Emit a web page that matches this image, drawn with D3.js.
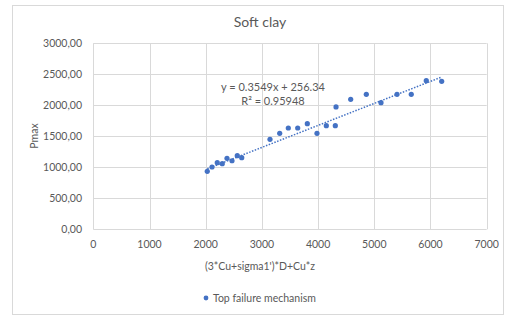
<!DOCTYPE html>
<html lang="en">
<head>
    <meta charset="UTF-8">
    <title>Soft clay | D3</title>
    <style>
        body { margin: 0; background: #fff; }
        text { font-family: Lato, "Open Sans", sans-serif; fill: #595959; }
    </style>
</head>
<body>
    <div id="container"></div>

    <script type="text/javascript" src="https://d3js.org/d3.v7.min.js"></script>
    <script type="text/javascript">
        // values
        var xValues = [2028, 2112, 2206, 2295, 2379, 2468, 2562, 2641, 3144, 3317, 3470, 3637,
                       3808, 3980, 4146, 4306, 4319, 4580, 4858, 5119, 5404, 5658, 5925, 6199];
        var yValues = [935, 1005, 1074, 1058, 1145, 1106, 1187, 1155, 1452, 1548, 1634, 1634,
                       1703, 1548, 1671, 1671, 1973, 2097, 2177, 2042, 2177, 2177, 2397, 2387];
        var xTicks = [0, 1000, 2000, 3000, 4000, 5000, 6000, 7000];
        var yTicks = [0, 500, 1000, 1500, 2000, 2500, 3000];
        var slope = 0.3549, intercept = 256.34;
        var equationLines = ["y = 0.3549x + 256.34", "R\u00b2 = 0.95948"];

        var width = 511, height = 318;
        var svg = d3.select("#container")
            .append("svg")
            .attr("width", width)
            .attr("height", height);

        // chart frame
        svg.append("rect")
            .attr("x", 12.5).attr("y", 5.5)
            .attr("width", 491).attr("height", 309)
            .attr("fill", "#fff")
            .attr("stroke", "#d9d9d9");

        var x = d3.scaleLinear().domain([0, 7000]).range([93.3, 486.7]);
        var y = d3.scaleLinear().domain([0, 3000]).range([229.3, 43.3]);

        // gridlines
        svg.append("g").selectAll("line")
            .data(yTicks)
            .enter().append("line")
                .attr("x1", x(0)).attr("x2", x(7000))
                .attr("y1", function(d) { return Math.round(y(d)) + 0.5; })
                .attr("y2", function(d) { return Math.round(y(d)) + 0.5; })
                .attr("stroke", "#d9d9d9");

        svg.append("g").selectAll("line")
            .data(xTicks)
            .enter().append("line")
                .attr("x1", function(d) { return Math.round(x(d)) + 0.5; })
                .attr("x2", function(d) { return Math.round(x(d)) + 0.5; })
                .attr("y1", y(0)).attr("y2", y(3000))
                .attr("stroke", "#d9d9d9");

        // tick labels
        svg.append("g").selectAll("text")
            .data(yTicks)
            .enter().append("text")
                .attr("x", 82)
                .attr("y", function(d) { return y(d); })
                .attr("dy", "0.35em")
                .attr("text-anchor", "end")
                .attr("font-size", 10.5)
                .text(function(d) { return d3.format(".2f")(d).replace(".", ","); });

        svg.append("g").selectAll("text")
            .data(xTicks)
            .enter().append("text")
                .attr("x", function(d) { return x(d); })
                .attr("y", 244)
                .attr("dy", "0.35em")
                .attr("text-anchor", "middle")
                .attr("font-size", 10.5)
                .text(function(d) { return d; });

        // titles
        svg.append("text")
            .attr("x", 260).attr("y", 22)
            .attr("dy", "0.35em")
            .attr("text-anchor", "middle")
            .attr("font-size", 14)
            .text("Soft clay");

        svg.append("text")
            .attr("x", 260).attr("y", 266)
            .attr("dy", "0.35em")
            .attr("text-anchor", "middle")
            .attr("font-size", 10.5)
            .text("(3*Cu+sigma1')*D+Cu*z");

        svg.append("text")
            .attr("transform", "translate(34,136) rotate(-90)")
            .attr("dy", "0.35em")
            .attr("text-anchor", "middle")
            .attr("font-size", 10.5)
            .text("Pmax");

        // trendline (dotted)
        var xExtent = d3.extent(xValues);
        var trendLine = d3.line()
            .x(function(d) { return x(d); })
            .y(function(d) { return y(slope * d + intercept); });

        svg.append("path")
            .datum(xExtent)
            .attr("d", trendLine)
            .attr("fill", "none")
            .attr("stroke", "#4472c4")
            .attr("stroke-width", 1.5)
            .attr("stroke-dasharray", "1.5,1.5");

        // points
        svg.append("g").selectAll("circle")
            .data(xValues)
            .enter().append("circle")
                .attr("cx", function(d) { return x(d); })
                .attr("cy", function(d, i) { return y(yValues[i]); })
                .attr("r", 2.6)
                .attr("fill", "#4472c4");

        // trendline label
        svg.append("g").selectAll("text")
            .data(equationLines)
            .enter().append("text")
                .attr("x", 273)
                .attr("y", function(d, i) { return 87 + i * 14.5; })
                .attr("dy", "0.35em")
                .attr("text-anchor", "middle")
                .attr("font-size", 11)
                .text(function(d) { return d; });

        // legend
        svg.append("circle")
            .attr("cx", 206).attr("cy", 298)
            .attr("r", 2.4)
            .attr("fill", "#4472c4");

        svg.append("text")
            .attr("x", 213).attr("y", 298)
            .attr("dy", "0.35em")
            .attr("font-size", 10.5)
            .text("Top failure mechanism");
    </script>
</body>
</html>
